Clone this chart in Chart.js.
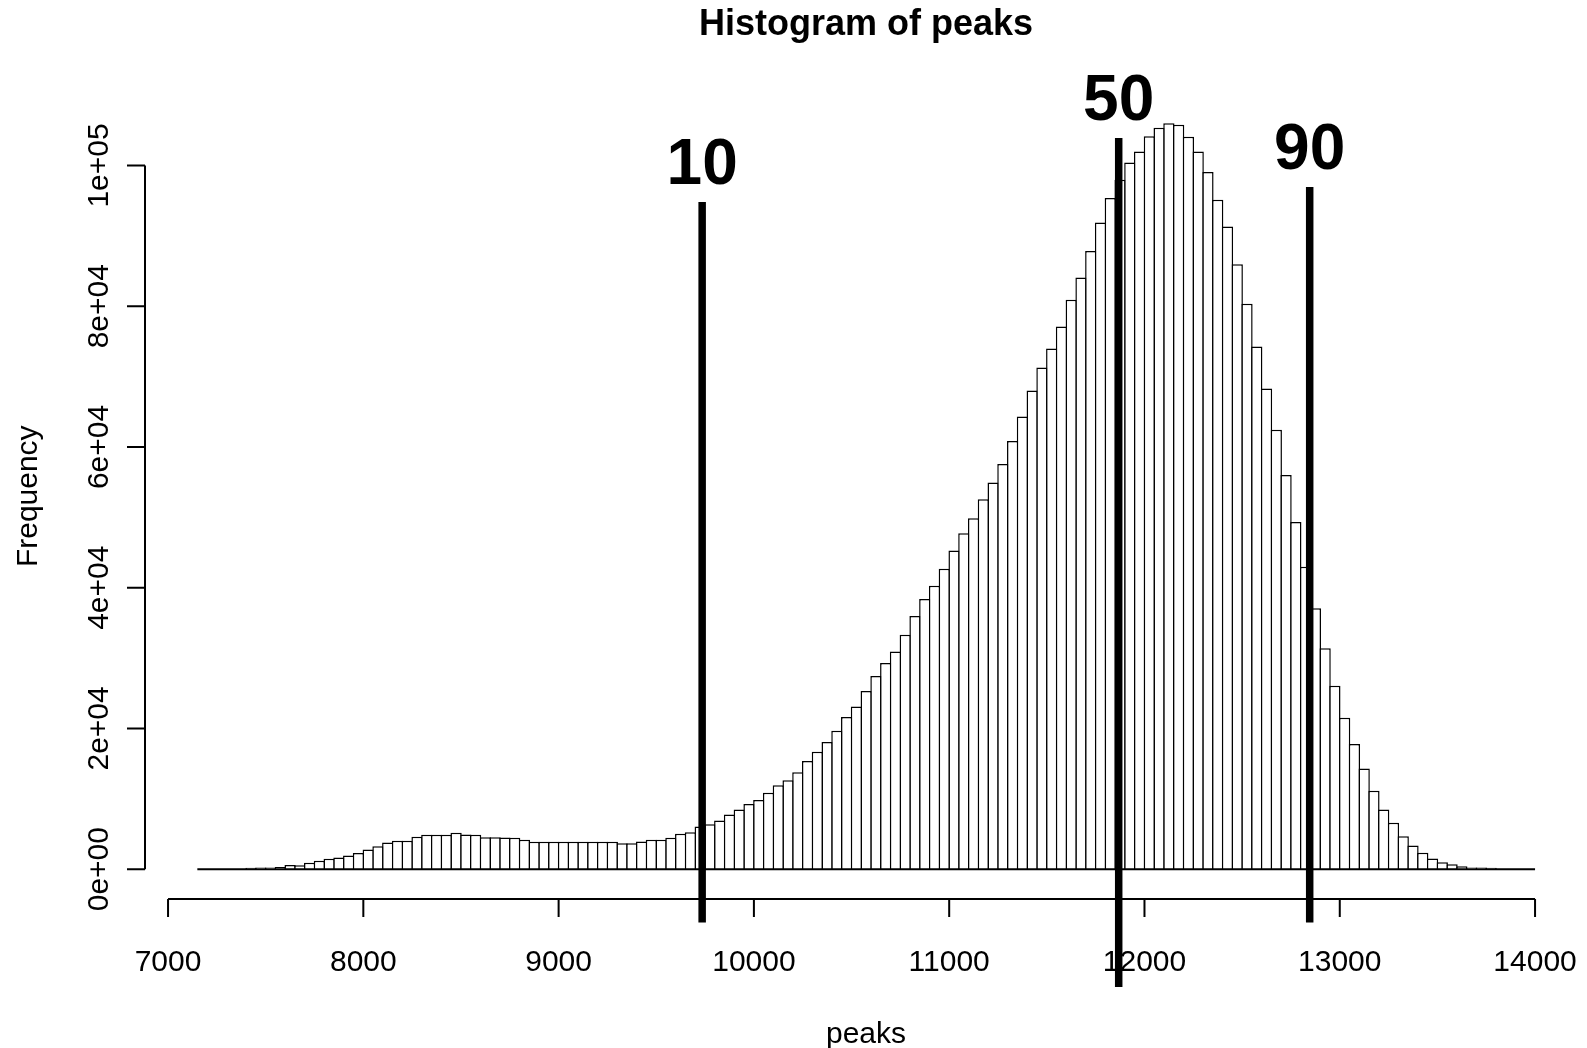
<!DOCTYPE html>
<html>
<head>
<meta charset="utf-8">
<title>Histogram of peaks</title>
<script src="https://cdn.jsdelivr.net/npm/chart.js@4.4.1/dist/chart.umd.min.js"></script>
<style>
body { margin: 0; background: #fff; }
</style>
</head>
<body>
<canvas id="histChart" width="1587" height="1048"></canvas>
<script>
// histogram bins: 50 wide, starting at 7150
const firstBreak = 7150;
const binWidth = 50;
const counts = [
    0, 0, 0, 0, 0, 200, 250, 250, 300, 600,
    550, 900, 1190, 1470, 1660, 1940, 2280, 2800, 3270, 3790,
    4030, 4030, 4600, 4880, 4880, 4880, 5170, 4930, 4880, 4550,
    4550, 4500, 4460, 4170, 3890, 3890, 3890, 3890, 3890, 3890,
    3890, 3890, 3890, 3700, 3700, 3930, 4170, 4170, 4460, 5020,
    5260, 6070, 6400, 6920, 7770, 8480, 9260, 9830, 10870, 11940,
    12650, 13790, 15360, 16680, 18060, 19670, 21610, 23130, 25310, 27440,
    29290, 30950, 33320, 35980, 38390, 40290, 42700, 45270, 47730, 49860,
    52570, 54940, 57590, 60860, 64320, 68020, 71290, 73990, 77120, 80910,
    84090, 87830, 91910, 95370, 97980, 100440, 102000, 104140, 105370, 105990,
    105800, 104090, 102000, 99070, 95130, 91340, 85980, 80340, 74280, 68300,
    62430, 56030, 49340, 42990, 37070, 31380, 26070, 21500, 17800, 14310,
    11140, 8480, 6590, 4690, 3370, 2320, 1520, 1000, 710, 430,
    240, 240, 200, 0, 0, 0, 0
];

const xTicks = [7000, 8000, 9000, 10000, 11000, 12000, 13000, 14000];
const yTicks = [0, 20000, 40000, 60000, 80000, 100000];
const yTickLabels = ['0e+00', '2e+04', '4e+04', '6e+04', '8e+04', '1e+05'];

// percentile markers
const pctLabels = ['10', '50', '90'];
const pctValues = [9735, 11868, 12846];
const pctTop = [94800, 103900, 96940];
const pctBottom = [-7580, -16730, -7580];

const barPoints = counts.map((c, i) => ({ x: firstBreak + binWidth * i + binWidth / 2, y: c }));
const lastBreak = firstBreak + binWidth * counts.length;

const datasets = [];
pctValues.forEach((v, i) => {
    datasets.push({
        type: 'line',
        label: pctLabels[i],
        data: [{ x: v, y: pctBottom[i] }, { x: v, y: pctTop[i] }],
        borderColor: '#000',
        borderWidth: 7.5,
        borderCapStyle: 'butt',
        pointRadius: 0,
        clip: false,
        order: 0
    });
});
datasets.push({
    type: 'line',
    label: 'zero',
    data: [{ x: firstBreak, y: 0 }, { x: lastBreak, y: 0 }],
    borderColor: '#000',
    borderWidth: 2,
    borderCapStyle: 'butt',
    pointRadius: 0,
    order: 1
});
datasets.push({
    type: 'bar',
    label: 'peaks',
    data: barPoints,
    backgroundColor: '#fff',
    borderColor: '#000',
    borderWidth: 1.5,
    borderSkipped: 'start',
    inflateAmount: 0,
    categoryPercentage: 1,
    barPercentage: 1.155,
    order: 2
});

const FONT = '"Liberation Sans", Arial, Helvetica, sans-serif';

// R style axes, titles and percentile labels
const baseGraphics = {
    id: 'baseGraphics',
    afterDraw(chart) {
        const ctx = chart.ctx;
        const xs = chart.scales.x;
        const ys = chart.scales.y;
        const area = chart.chartArea;
        ctx.save();
        ctx.strokeStyle = '#000';
        ctx.fillStyle = '#000';
        ctx.lineWidth = 2;
        ctx.lineCap = 'butt';

        // x axis
        const axY = area.bottom;
        ctx.beginPath();
        ctx.moveTo(xs.getPixelForValue(xTicks[0]), axY);
        ctx.lineTo(xs.getPixelForValue(xTicks[xTicks.length - 1]), axY);
        xTicks.forEach(t => {
            const px = xs.getPixelForValue(t);
            ctx.moveTo(px, axY);
            ctx.lineTo(px, axY + 18);
        });
        ctx.stroke();
        ctx.font = '30px ' + FONT;
        ctx.textAlign = 'center';
        ctx.textBaseline = 'alphabetic';
        xTicks.forEach(t => {
            ctx.fillText(String(t), xs.getPixelForValue(t), axY + 72);
        });

        // y axis
        const axX = area.left;
        ctx.beginPath();
        ctx.moveTo(axX, ys.getPixelForValue(yTicks[0]));
        ctx.lineTo(axX, ys.getPixelForValue(yTicks[yTicks.length - 1]));
        yTicks.forEach(t => {
            const py = ys.getPixelForValue(t);
            ctx.moveTo(axX, py);
            ctx.lineTo(axX - 18, py);
        });
        ctx.stroke();
        yTicks.forEach((t, i) => {
            ctx.save();
            ctx.translate(axX - 37, ys.getPixelForValue(t));
            ctx.rotate(-Math.PI / 2);
            ctx.fillText(yTickLabels[i], 0, 0);
            ctx.restore();
        });

        // axis titles
        const midX = (area.left + area.right) / 2;
        const midY = (area.top + area.bottom) / 2;
        ctx.fillText('peaks', midX, axY + 144);
        ctx.save();
        ctx.translate(axX - 108, midY);
        ctx.rotate(-Math.PI / 2);
        ctx.fillText('Frequency', 0, 0);
        ctx.restore();

        // main title
        ctx.font = 'bold 36px ' + FONT;
        ctx.fillText('Histogram of peaks', midX, 35);

        // percentile labels
        ctx.font = 'bold 64px ' + FONT;
        pctLabels.forEach((lab, i) => {
            ctx.fillText(lab, xs.getPixelForValue(pctValues[i]), ys.getPixelForValue(pctTop[i]) - 18);
        });
        ctx.restore();
    }
};

new Chart(document.getElementById('histChart').getContext('2d'), {
    type: 'bar',
    data: { datasets: datasets },
    options: {
        responsive: false,
        animation: false,
        layout: { padding: { left: 145, top: 93.5, right: 0, bottom: 149 } },
        scales: {
            x: { type: 'linear', min: 6882, max: 14266, offset: false, display: false },
            y: { type: 'linear', min: -4240, max: 110230, display: false }
        },
        plugins: {
            legend: { display: false },
            tooltip: { enabled: false }
        }
    },
    plugins: [baseGraphics]
});
</script>
</body>
</html>
